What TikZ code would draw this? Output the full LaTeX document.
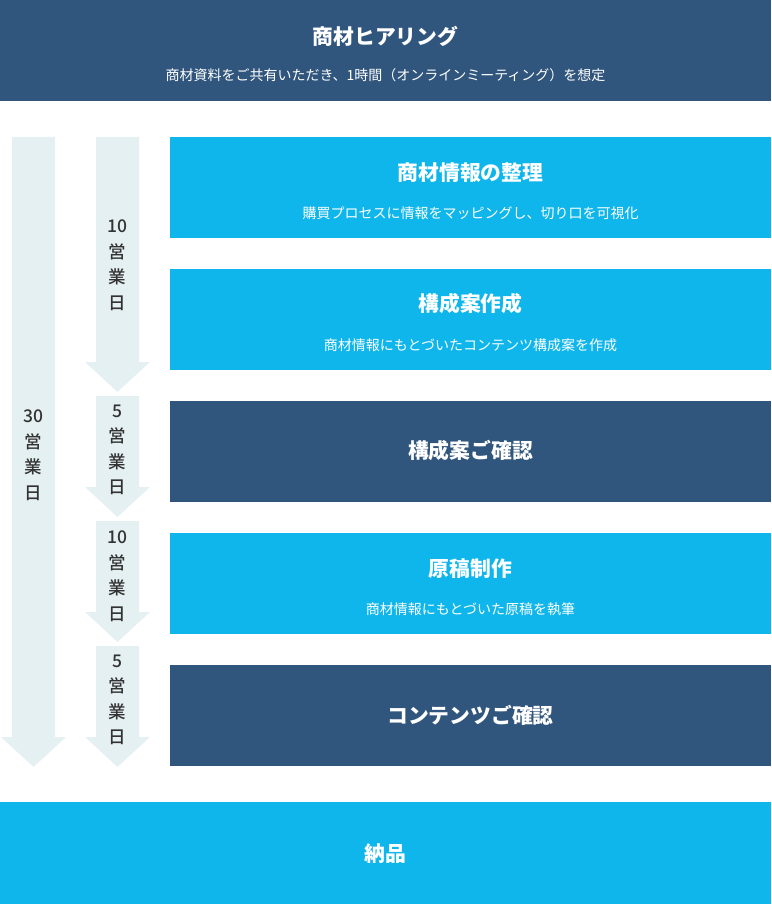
\documentclass[tikz,border=0pt]{standalone}
\usepackage{fontspec}
\setmainfont{Noto Sans CJK JP}
\newfontfamily\medfont{Noto Sans CJK JP Medium}
\definecolor{navy}{HTML}{31567D}
\definecolor{sky}{HTML}{0FB6EC}
\definecolor{pale}{HTML}{E5F0F3}
\definecolor{ink}{HTML}{333333}
\begin{document}
\begin{tikzpicture}[x=1pt,y=-1pt,
  box/.style={rectangle, inner sep=0pt, outer sep=0pt, anchor=north west, draw=none},
  darkbox/.style={box, fill=navy},
  lightbox/.style={box, fill=sky},
  ttl/.style={text=white, inner sep=0pt, font=\fontsize{20.8}{24}\selectfont\bfseries},
  sub/.style={text=white, inner sep=0pt, font=\fontsize{14}{17}\selectfont},
  days/.style={text=ink, align=center, inner sep=0pt, font=\medfont\fontsize{17.5}{25.5}\selectfont},
  flow/.style={fill=pale, draw=none}]
\useasboundingbox (0,0) rectangle (771,904);

% top box
\node[darkbox, minimum width=771pt, minimum height=101pt] (hear) at (0,0) {};
\node[ttl] (hearT) at (385.5,36) {商材ヒアリング};
\node[sub] (hearS) at (385.5,75) {商材資料をご共有いただき、1時間（オンラインミーティング）を想定};

% arrows
\fill[flow] (12,137) -- (55,137) -- (55,737) -- (66,737) -- (33.5,767) -- (1,737) -- (12,737) -- cycle;
\fill[flow] (96,137) -- (139,137) -- (139,362) -- (150,362) -- (117.5,392) -- (85,362) -- (96,362) -- cycle;
\fill[flow] (96,396) -- (139,396) -- (139,487) -- (150,487) -- (117.5,517) -- (85,487) -- (96,487) -- cycle;
\fill[flow] (96,521) -- (139,521) -- (139,612) -- (150,612) -- (117.5,642) -- (85,612) -- (96,612) -- cycle;
\fill[flow] (96,646) -- (139,646) -- (139,737) -- (150,737) -- (117.5,767) -- (85,737) -- (96,737) -- cycle;

\node[days] (d30) at (33.5,455) {30\\営\\業\\日};
\node[days] (d1) at (117.5,265) {10\\営\\業\\日};
\node[days] (d2) at (117.5,450) {5\\営\\業\\日};
\node[days] (d3) at (117.5,576) {10\\営\\業\\日};
\node[days] (d4) at (117.5,700) {5\\営\\業\\日};

% step boxes
\node[lightbox, minimum width=601pt, minimum height=101pt] (s1) at (170,137) {};
\node[ttl] (s1T) at (470.5,173) {商材情報の整理};
\node[sub] (s1S) at (470.5,213) {購買プロセスに情報をマッピングし、切り口を可視化};

\node[lightbox, minimum width=601pt, minimum height=101pt] (s2) at (170,269) {};
\node[ttl] (s2T) at (470.5,304) {構成案作成};
\node[sub] (s2S) at (470.5,345) {商材情報にもとづいたコンテンツ構成案を作成};

\node[darkbox, minimum width=601pt, minimum height=101pt] (s3) at (170,401) {};
\node[ttl] (s3T) at (470.5,451) {構成案ご確認};

\node[lightbox, minimum width=601pt, minimum height=101pt] (s4) at (170,533) {};
\node[ttl] (s4T) at (470.5,569) {原稿制作};
\node[sub] (s4S) at (470.5,609) {商材情報にもとづいた原稿を執筆};

\node[darkbox, minimum width=601pt, minimum height=101pt] (s5) at (170,665) {};
\node[ttl] (s5T) at (470.5,715) {コンテンツご確認};

% bottom box
\node[lightbox, minimum width=771pt, minimum height=102pt] (deliv) at (0,802) {};
\node[ttl] (delivT) at (385.5,854) {納品};
\end{tikzpicture}
\end{document}
